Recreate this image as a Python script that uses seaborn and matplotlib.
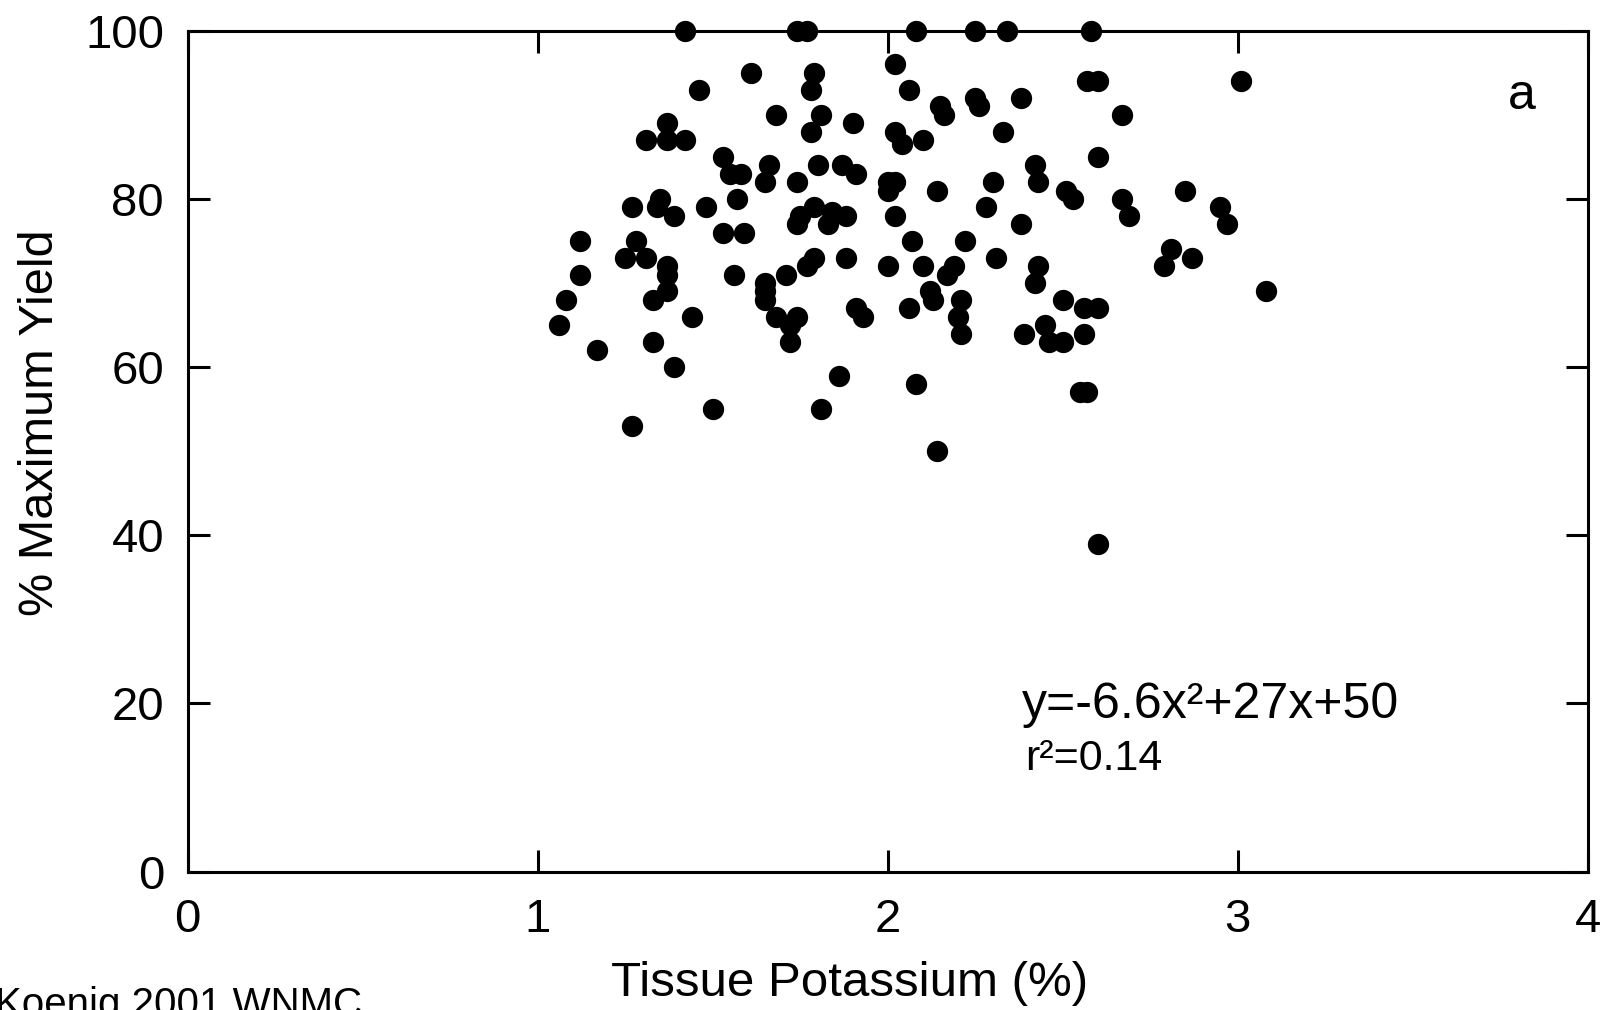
import matplotlib
matplotlib.use("Agg")
import matplotlib.pyplot as plt
import pandas as pd
import seaborn as sns

# Tissue potassium (%) vs % of maximum yield
tissue_k = [1.42, 1.74, 1.77, 2.08, 2.25, 2.34, 2.58, 3.01, 2.57, 2.60,
            1.61, 2.02, 1.79, 1.78, 1.46, 2.06, 2.38, 2.25, 2.26, 2.15,
            2.16, 2.67, 1.68, 1.81, 1.90, 1.37, 1.31, 1.37, 1.42, 2.02,
            2.04, 2.10, 1.78, 2.33, 2.60, 1.53, 1.55, 1.58, 1.66, 1.80,
            1.87, 1.91, 2.42, 2.00, 2.02, 2.00, 2.43, 2.30, 1.65, 1.74,
            2.14, 2.85, 2.51, 2.53, 2.67, 1.57, 1.35, 1.34, 1.27, 1.48,
            1.79, 2.95, 2.28, 1.39, 1.84, 1.88, 1.83, 1.75, 1.74, 2.69,
            2.02, 2.97, 2.38, 1.53, 1.59, 1.12, 1.28, 2.07, 2.22, 2.81,
            1.31, 1.25, 1.88, 1.79, 1.77, 2.31, 2.87, 1.37, 1.37, 2.00,
            2.10, 2.17, 2.19, 2.43, 2.42, 2.79, 1.12, 1.56, 1.71, 1.65,
            3.08, 1.37, 2.12, 2.13, 1.65, 1.65, 1.33, 1.08, 2.21, 2.50,
            2.06, 2.56, 2.60, 1.91, 1.93, 1.44, 1.68, 1.74, 1.72, 2.20,
            1.06, 2.45, 2.39, 2.21, 2.56, 2.46, 2.50, 1.33, 1.72, 1.17,
            1.39, 1.86, 2.08, 2.55, 2.57, 1.50, 1.81, 1.27, 2.14, 2.60]
max_yield = [100, 100, 100, 100, 100, 100, 100, 94, 94, 94,
             95, 96, 95, 93, 93, 93, 92, 92, 91, 91,
             90, 90, 90, 90, 89, 89, 87, 87, 87, 88,
             86.5, 87, 88, 88, 85, 85, 83, 83, 84, 84,
             84, 83, 84, 82, 82, 81, 82, 82, 82, 82,
             81, 81, 81, 80, 80, 80, 80, 79, 79, 79,
             79, 79, 79, 78, 78.5, 78, 77, 78, 77, 78,
             78, 77, 77, 76, 76, 75, 75, 75, 75, 74,
             73, 73, 73, 73, 72, 73, 73, 72, 71, 72,
             72, 71, 72, 72, 70, 72, 71, 71, 71, 70,
             69, 69, 69, 68, 69, 68, 68, 68, 68, 68,
             67, 67, 67, 67, 66, 66, 66, 66, 65, 66,
             65, 65, 64, 64, 64, 63, 63, 63, 63, 62,
             60, 59, 58, 57, 57, 55, 55, 53, 50, 39]

x_ticks = [0, 1, 2, 3, 4]
y_ticks = [0, 20, 40, 60, 80, 100]

df = pd.DataFrame({"Tissue Potassium (%)": tissue_k, "% Maximum Yield": max_yield})

sns.set_style("ticks")
plt.rcParams["font.family"] = ["Liberation Sans", "DejaVu Sans"]
plt.rcParams["text.color"] = "black"
plt.rcParams["axes.labelcolor"] = "black"

fig = plt.figure(figsize=(16.08, 10.10), dpi=100)
ax = fig.add_axes([0.1167, 0.137, 0.8706, 0.8325])

sns.scatterplot(data=df, x="Tissue Potassium (%)", y="% Maximum Yield", ax=ax,
                color="black", s=235, linewidth=0, clip_on=False, zorder=5)

ax.set_xlim(0, 4)
ax.set_ylim(0, 100)
ax.set_xticks(x_ticks)
ax.set_yticks(y_ticks)
ax.tick_params(axis="both", direction="in", length=16, width=2.2,
               labelsize=34, top=True, right=True, colors="black")
ax.tick_params(axis="x", pad=19)
ax.tick_params(axis="y", pad=17)
for sp in ax.spines.values():
    sp.set_linewidth(2.2)
    sp.set_color("black")

ax.set_xlabel("Tissue Potassium (%)", fontsize=35.5)
ax.set_ylabel("% Maximum Yield", fontsize=35)
ax.xaxis.set_label_coords(0.4725, -0.106)
ax.yaxis.set_label_coords(-0.089, 0.5335)

ax.text(0.596, 0.183, "y=-6.6x²+27x+50", transform=ax.transAxes,
        fontsize=36, va="baseline", ha="left")
ax.text(0.598, 0.121, "r²=0.14", transform=ax.transAxes,
        fontsize=31, va="baseline", ha="left")
ax.text(0.953, 0.922, "a", transform=ax.transAxes,
        fontsize=36, va="center", ha="center")

fig.text(-0.003, -0.006, "Koenig 2001 WNMC", fontsize=29, ha="left", va="baseline")

fig.savefig("out.png", dpi=100)
